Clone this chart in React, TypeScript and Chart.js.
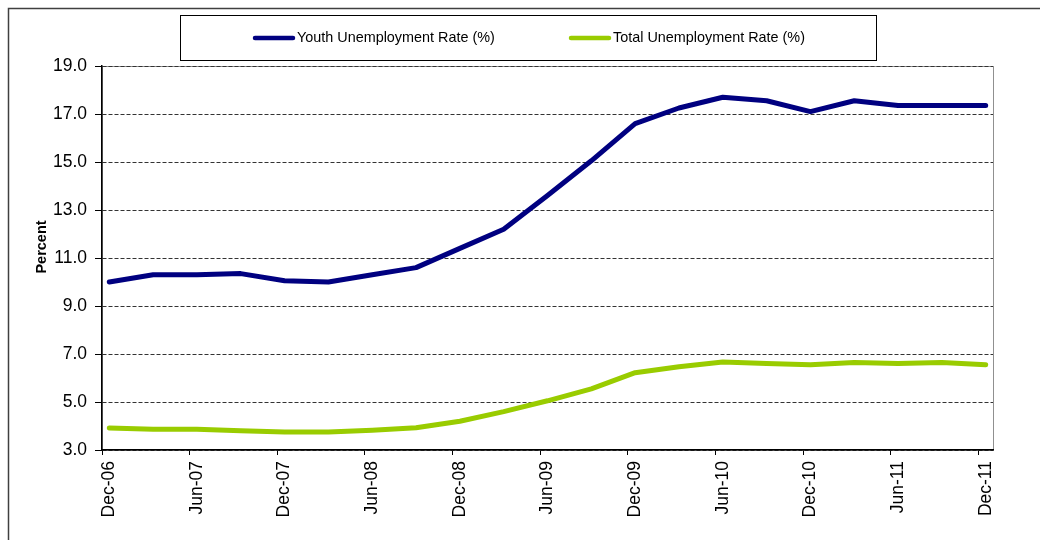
import React, { useEffect, useRef } from "react";
import { Chart, registerables } from "chart.js";

Chart.register(...registerables);

const quarters = [
  "Dec-06", "Mar-07", "Jun-07", "Sep-07", "Dec-07", "Mar-08", "Jun-08", "Sep-08",
  "Dec-08", "Mar-09", "Jun-09", "Sep-09", "Dec-09", "Mar-10", "Jun-10", "Sep-10",
  "Dec-10", "Mar-11", "Jun-11", "Sep-11", "Dec-11",
];
const youthRate = [
  10.0, 10.3, 10.3, 10.35, 10.05, 10.0, 10.3, 10.6, 11.4, 12.2, 13.6, 15.05,
  16.6, 17.25, 17.7, 17.55, 17.1, 17.55, 17.35, 17.35, 17.35,
];
const totalRate = [
  3.92, 3.86, 3.86, 3.8, 3.75, 3.75, 3.82, 3.93, 4.2, 4.6, 5.05, 5.55,
  6.22, 6.47, 6.67, 6.6, 6.55, 6.65, 6.6, 6.65, 6.55,
];
const tickLabels = [
  "Dec-06", "Jun-07", "Dec-07", "Jun-08", "Dec-08", "Jun-09",
  "Dec-09", "Jun-10", "Dec-10", "Jun-11", "Dec-11",
];
const seriesNames = ["Youth Unemployment Rate (%)", "Total Unemployment Rate (%)"];
const seriesColors = ["#000080", "#99CC00"];
const yAxisTitle = "Percent";

// months since Dec-06 (start of month); data sit mid-month
const toMonth = (i: number) => i * 3 + 0.5;

const FONT = "'Liberation Sans', Arial, sans-serif";

const decorPlugin = {
  id: "decor",
  beforeDraw(chart: any) {
    const ctx = chart.ctx;
    const a = chart.chartArea;
    ctx.save();
    // outer frame
    ctx.strokeStyle = "#404040";
    ctx.lineWidth = 1.5;
    ctx.strokeRect(8.5, 8.5, 1200, 700);
    // plot area border (grey)
    ctx.strokeStyle = "#909090";
    ctx.lineWidth = 1;
    ctx.strokeRect(Math.round(a.left) + 0.5, Math.round(a.top) + 0.5, a.right - a.left, a.bottom - a.top);
    ctx.restore();
  },
  afterDraw(chart: any) {
    const ctx = chart.ctx;
    ctx.save();
    // legend box
    ctx.strokeStyle = "#000";
    ctx.lineWidth = 1;
    ctx.strokeRect(180.5, 15.5, 696, 45);
    const items = [
      { x0: 255, x1: 293, tx: 297 },
      { x0: 571, x1: 609, tx: 613 },
    ];
    chart.data.datasets.forEach((ds: any, i: number) => {
      const it = items[i];
      ctx.strokeStyle = ds.borderColor;
      ctx.lineWidth = 4.5;
      ctx.lineCap = "round";
      ctx.beginPath();
      ctx.moveTo(it.x0, 38);
      ctx.lineTo(it.x1, 38);
      ctx.stroke();
      ctx.fillStyle = "#000";
      ctx.font = `14.4px ${FONT}`;
      ctx.textBaseline = "middle";
      ctx.textAlign = "left";
      ctx.fillText(ds.label, it.tx, 38);
    });
    // y axis title
    ctx.translate(42, 247);
    ctx.rotate(-Math.PI / 2);
    ctx.font = `bold 14.5px ${FONT}`;
    ctx.textAlign = "center";
    ctx.textBaseline = "middle";
    ctx.fillStyle = "#000";
    ctx.fillText(yAxisTitle, 0, 0);
    ctx.restore();
  },
};

export default function App() {
  const ref = useRef<HTMLCanvasElement | null>(null);
  useEffect(() => {
    if (!ref.current) return;
    const chart = new Chart(ref.current, {
      type: "line",
      data: {
        datasets: [youthRate, totalRate].map((vals, s) => ({
          label: seriesNames[s],
          data: vals.map((v, i) => ({ x: toMonth(i), y: v })),
          borderColor: seriesColors[s],
          backgroundColor: seriesColors[s],
          borderWidth: 5,
          borderCapStyle: "round",
          borderJoinStyle: "round",
          pointRadius: 0,
          tension: 0,
          fill: false,
        })),
      },
      options: {
        animation: false,
        responsive: false,
        layout: { padding: { top: 66, right: 47, left: 0, bottom: 0 } },
        plugins: { legend: { display: false }, tooltip: { enabled: false } },
        scales: {
          x: {
            type: "linear",
            min: 0,
            max: 61,
            afterBuildTicks: (scale: any) => {
              scale.ticks = tickLabels.map((_, k) => ({ value: k * 6 }));
            },
            afterFit: (scale: any) => {
              scale.height = 90;
            },
            ticks: {
              autoSkip: false,
              maxRotation: 90,
              minRotation: 90,
              labelOffset: 7.3,
              padding: 6,
              color: "#000",
              font: { family: FONT, size: 17.5 },
              callback: (v: any) => tickLabels[Math.round(Number(v) / 6)] ?? "",
            },
            grid: {
              display: true,
              drawOnChartArea: false,
              drawTicks: true,
              tickLength: 5,
              tickColor: "#000",
            },
            border: { display: true, color: "#000", width: 1.5 },
          },
          y: {
            type: "linear",
            min: 3,
            max: 19,
            afterFit: (scale: any) => {
              scale.width = 102;
            },
            ticks: {
              stepSize: 2,
              padding: 8,
              color: "#000",
              font: { family: FONT, size: 17.5 },
              callback: (v: any) => Number(v).toFixed(1),
            },
            grid: {
              color: "#333",
              lineWidth: 1,
              tickLength: 7,
              tickColor: "#000",
              tickBorderDash: [],
            },
            border: { display: true, color: "#000", width: 1.5, dash: [4, 2] },
          },
        },
      },
      plugins: [decorPlugin],
    } as any);
    return () => chart.destroy();
  }, []);
  return (
    <div style={{ position: "absolute", left: 0, top: 0, width: 1040, height: 540, background: "#fff" }}>
      <canvas ref={ref} width={1040} height={540} />
    </div>
  );
}
